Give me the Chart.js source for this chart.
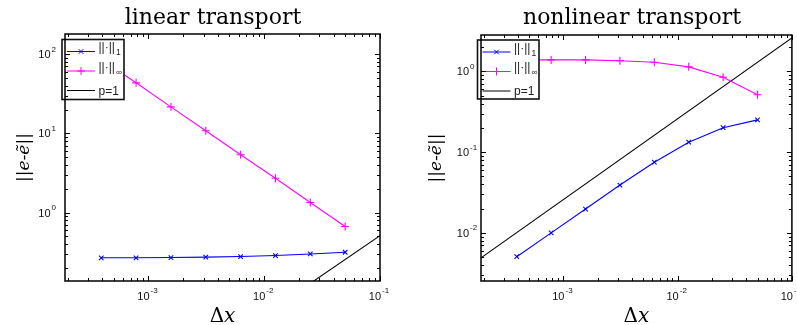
<!DOCTYPE html>
<html>
<head>
<meta charset="utf-8">
<script src="https://cdn.jsdelivr.net/npm/chart.js@4.4.1/dist/chart.umd.min.js"></script>
<style>
  body { margin: 0; background: #fff; }
  .panel { position: absolute; top: 0; height: 325px; }
</style>
</head>
<body>
<div class="panel" style="left:0;width:400px"><canvas id="linear" width="400" height="325"></canvas></div>
<div class="panel" style="left:400px;width:397px"><canvas id="nonlinear" width="397" height="325"></canvas></div>
<script>
// grid spacing (x axis of both panels)
const dx = [0.000390625, 0.00078125, 0.0015625, 0.003125, 0.00625, 0.0125, 0.025, 0.05];

// linear transport errors
const linearL1   = [0.268, 0.268, 0.270, 0.273, 0.278, 0.286, 0.300, 0.315];
const linearLinf = [86, 43.5, 21.6, 10.8, 5.37, 2.71, 1.34, 0.667];

// nonlinear transport errors
const nonlinearL1   = [0.00506, 0.0100, 0.0197, 0.0391, 0.0751, 0.133, 0.201, 0.251];
const nonlinearLinf = [1.39, 1.39, 1.39, 1.36, 1.30, 1.14, 0.847, 0.515];

// first order reference line (p=1)
const refX = [1.9e-4, 0.1];
const linearRef = [0.00097, 0.51];
const nonlinearRef = [0.0049, 2.6];

// axis limits
const xRange = [1.9e-4, 0.1];
const linearYRange = [0.1365, 180];
const nonlinearYRange = [0.00253, 2.83];

const legendLabels = ['||\u00b7||', '||\u00b7||', 'p=1'];
const legendSubs = ['1', '\u221e', ''];

const BLUE = '#0000ff';
const MAGENTA = '#ff00ff';

// draws the matlab style box, ticks, tick labels, titles and legend
const matlabFrame = {
  id: 'matlabFrame',
  afterDatasetsDraw(chart, args, opts) {
    const ctx = chart.ctx;
    const a = chart.chartArea;
    const xs = chart.scales.x;
    const ys = chart.scales.y;
    ctx.save();
    ctx.strokeStyle = '#000';
    ctx.fillStyle = '#000';

    // legend
    const lg = opts.legend;
    ctx.fillStyle = '#fff';
    ctx.fillRect(lg.x, lg.y, lg.w, lg.h);
    ctx.lineWidth = 1.6;
    ctx.strokeStyle = '#111';
    ctx.strokeRect(lg.x, lg.y, lg.w, lg.h);
    const colors = [BLUE, MAGENTA, '#000'];
    const styles = ['crossRot', 'cross', false];
    const rows = [12, 31.5, 51];
    rows.forEach((ry, i) => {
      const y = lg.y + ry;
      ctx.strokeStyle = colors[i];
      ctx.lineWidth = 1;
      ctx.beginPath();
      ctx.moveTo(lg.x + 5, y);
      ctx.lineTo(lg.x + 33, y);
      ctx.stroke();
      if (styles[i]) {
        Chart.helpers.drawPoint(ctx, {pointStyle: styles[i], radius: i === 0 ? 3.2 : 4, borderWidth: 1}, lg.x + 19, y);
      }
      ctx.fillStyle = '#222';
      ctx.textAlign = 'left';
      ctx.textBaseline = 'alphabetic';
      ctx.font = '12px "Liberation Sans"';
      const tx = lg.x + 36.5;
      if (legendSubs[i]) {
        ctx.fillText(legendLabels[i], tx, y - 0.5);
        const w = ctx.measureText(legendLabels[i]).width;
        ctx.font = '8.5px "Liberation Sans"';
        ctx.fillText(legendSubs[i], tx + w + 1, y + 3.5);
      } else {
        ctx.fillText(legendLabels[i], tx, y + 4);
      }
    });

    // box
    ctx.strokeStyle = '#000';
    ctx.lineWidth = 1.5;
    ctx.strokeRect(a.left, a.top, a.right - a.left, a.bottom - a.top);

    // ticks
    ctx.lineWidth = 1;
    const tickList = (scale) => {
      const out = [];
      const lo = Math.floor(Math.log10(scale.min));
      const hi = Math.ceil(Math.log10(scale.max));
      for (let d = lo; d <= hi; d++) {
        for (let m = 1; m <= 9; m++) {
          const v = m * Math.pow(10, d);
          if (v >= scale.min * 0.9999 && v <= scale.max * 1.0001) out.push({v, major: m === 1, exp: d});
        }
      }
      return out;
    };
    ctx.beginPath();
    tickList(xs).forEach(t => {
      const px = Math.round(xs.getPixelForValue(t.v)) + 0.5;
      const len = t.major ? 5 : 3;
      ctx.moveTo(px, a.bottom); ctx.lineTo(px, a.bottom - len);
      ctx.moveTo(px, a.top); ctx.lineTo(px, a.top + len);
    });
    tickList(ys).forEach(t => {
      const py = Math.round(ys.getPixelForValue(t.v)) + 0.5;
      const len = t.major ? 5 : 3;
      ctx.moveTo(a.left, py); ctx.lineTo(a.left + len, py);
      ctx.moveTo(a.right, py); ctx.lineTo(a.right - len, py);
    });
    ctx.stroke();

    // tick labels
    ctx.fillStyle = '#111';
    ctx.textBaseline = 'alphabetic';
    ctx.textAlign = 'left';
    const baseFont = '11px "Liberation Sans"';
    const expFont = '8px "Liberation Sans"';
    tickList(xs).filter(t => t.major).forEach(t => {
      const px = xs.getPixelForValue(t.v);
      const e = String(t.exp);
      ctx.font = baseFont;
      const w1 = ctx.measureText('10').width;
      ctx.font = expFont;
      const w2 = ctx.measureText(e).width;
      const x0 = px - 1 - (w1 + w2 + 1) / 2;
      ctx.font = baseFont;
      ctx.fillText('10', x0, a.bottom + 19);
      ctx.font = expFont;
      ctx.fillText(e, x0 + w1 + 1, a.bottom + 12);
    });
    tickList(ys).filter(t => t.major).forEach(t => {
      const py = ys.getPixelForValue(t.v);
      const e = String(t.exp);
      ctx.font = baseFont;
      const w1 = ctx.measureText('10').width;
      const x0 = a.left - opts.yLabelGap - w1;
      ctx.fillText('10', x0, py + 4);
      ctx.font = expFont;
      ctx.fillText(e, x0 + w1 + 1, py - 2.5);
    });

    // title
    ctx.fillStyle = '#000';
    ctx.textAlign = 'center';
    ctx.font = '22px "DejaVu Serif"';
    ctx.fillText(opts.title, opts.titleX, 24);

    // x axis label: Δx
    const cx = (a.left + a.right) / 2;
    ctx.font = '20px "DejaVu Serif"';
    const wd = ctx.measureText('\u0394').width;
    ctx.font = 'italic 20px "DejaVu Serif"';
    const wx = ctx.measureText('x').width;
    ctx.textAlign = 'left';
    ctx.font = '20px "DejaVu Serif"';
    ctx.fillText('\u0394', cx - (wd + wx) / 2, 322);
    ctx.font = 'italic 20px "DejaVu Serif"';
    ctx.fillText('x', cx - (wd + wx) / 2 + wd, 322);

    // y axis label: ||e-ẽ||
    ctx.translate(opts.yTitleX, (a.top + a.bottom) / 2);
    ctx.rotate(-Math.PI / 2);
    const parts = [['||', '17px "DejaVu Serif"'], ['e-\u1ebd', 'italic 17px "DejaVu Serif"'], ['||', '17px "DejaVu Serif"']];
    let total = 0;
    parts.forEach(p => { ctx.font = p[1]; total += ctx.measureText(p[0]).width; });
    let px = -total / 2;
    parts.forEach(p => { ctx.font = p[1]; ctx.fillText(p[0], px, 5); px += ctx.measureText(p[0]).width; });
    ctx.restore();
  }
};

function makeChart(id, l1, linf, ref, yRange, frameOpts, padding) {
  return new Chart(document.getElementById(id), {
    type: 'line',
    data: {
      datasets: [
        {
          label: '||\u00b7||1',
          data: dx.map((x, i) => ({x, y: l1[i]})),
          borderColor: BLUE, backgroundColor: BLUE,
          borderWidth: 1.1, pointStyle: 'crossRot', pointRadius: 3.2, pointBorderWidth: 1.1,
          tension: 0
        },
        {
          label: '||\u00b7||\u221e',
          data: dx.map((x, i) => ({x, y: linf[i]})),
          borderColor: MAGENTA, backgroundColor: MAGENTA,
          borderWidth: 1.1, pointStyle: 'cross', pointRadius: 4, pointBorderWidth: 1.1,
          tension: 0
        },
        {
          label: 'p=1',
          data: refX.map((x, i) => ({x, y: ref[i]})),
          borderColor: '#000', borderWidth: 1.1, pointRadius: 0,
          tension: 0
        }
      ]
    },
    options: {
      responsive: false,
      animation: false,
      events: [],
      layout: { padding },
      plugins: {
        legend: { display: false },
        tooltip: { enabled: false },
        matlabFrame: frameOpts
      },
      scales: {
        x: {
          type: 'logarithmic', min: xRange[0], max: xRange[1],
          grid: { display: false }, border: { display: false },
          ticks: { display: false }
        },
        y: {
          type: 'logarithmic', min: yRange[0], max: yRange[1],
          grid: { display: false }, border: { display: false },
          ticks: { display: false }
        }
      }
    },
    plugins: [matlabFrame]
  });
}

makeChart('linear', linearL1, linearLinf, linearRef, linearYRange,
  { title: 'linear transport', titleX: 213, yTitleX: 24, yLabelGap: 14.5,
    legend: { x: 62, y: 39.5, w: 62, h: 60 } },
  { left: 57, right: 20, top: 34, bottom: 36 });

makeChart('nonlinear', nonlinearL1, nonlinearLinf, nonlinearRef, nonlinearYRange,
  { title: 'nonlinear transport', titleX: 232, yTitleX: 36, yLabelGap: 12,
    legend: { x: 77.5, y: 40, w: 61.5, h: 59 } },
  { left: 73, right: 3, top: 35, bottom: 36 });
</script>
</body>
</html>
